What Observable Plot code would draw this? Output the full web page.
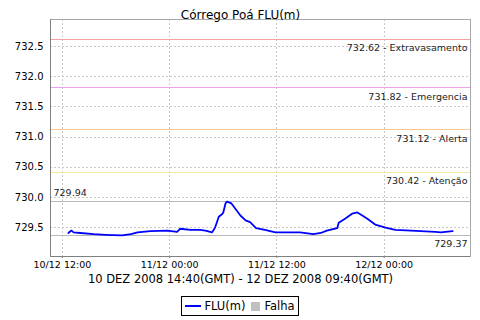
<!DOCTYPE html>
<html>
<head>
<meta charset="utf-8">
<script src="https://cdn.jsdelivr.net/npm/d3@7"></script>
<script src="https://cdn.jsdelivr.net/npm/@observablehq/plot@0.6"></script>
<style>
  body { margin: 0; background: #fff; font-family: "DejaVu Sans", sans-serif; }
  #legend { width: 480px; display: flex; justify-content: center; margin-top: 6px; }
  #legend .box { border: 1px solid #000; height: 18px; display: flex; align-items: center; padding: 0 3px; font-size: 11.5px; color: #000; }
  #legend .ln { width: 16px; height: 2px; background: #0000ff; margin-right: 3px; }
  #legend .sq { width: 9px; height: 9px; background: #c0c0c0; margin: 0 4px 0 6px; }
</style>
</head>
<body>
<div id="chart"></div>
<div id="legend"><div class="box"><span class="ln"></span>FLU(m)<span class="sq"></span>Falha</div></div>
<script>
const times = [
  "2008-12-10T12:40Z","2008-12-10T13:00Z","2008-12-10T13:15Z","2008-12-10T14:00Z","2008-12-10T15:30Z",
  "2008-12-10T16:50Z","2008-12-10T18:40Z","2008-12-10T19:40Z","2008-12-10T20:25Z","2008-12-10T21:50Z",
  "2008-12-10T23:45Z","2008-12-11T00:50Z","2008-12-11T01:10Z","2008-12-11T02:20Z","2008-12-11T03:25Z",
  "2008-12-11T04:00Z","2008-12-11T04:45Z","2008-12-11T05:05Z","2008-12-11T05:30Z","2008-12-11T05:55Z",
  "2008-12-11T06:00Z","2008-12-11T06:15Z","2008-12-11T06:25Z","2008-12-11T06:55Z","2008-12-11T07:25Z",
  "2008-12-11T07:55Z","2008-12-11T08:30Z","2008-12-11T09:00Z","2008-12-11T09:40Z","2008-12-11T10:40Z",
  "2008-12-11T11:50Z","2008-12-11T12:40Z","2008-12-11T14:35Z","2008-12-11T16:05Z","2008-12-11T16:55Z",
  "2008-12-11T17:35Z","2008-12-11T18:45Z","2008-12-11T18:55Z","2008-12-11T19:40Z","2008-12-11T20:25Z",
  "2008-12-11T21:00Z","2008-12-11T21:20Z","2008-12-11T22:05Z","2008-12-11T23:00Z","2008-12-12T00:10Z",
  "2008-12-12T01:15Z","2008-12-12T03:00Z","2008-12-12T05:45Z","2008-12-12T06:20Z","2008-12-12T07:40Z"
];
const values = [
  729.41,729.45,729.42,729.41,729.39,
  729.38,729.37,729.39,729.42,729.44,
  729.45,729.43,729.48,729.46,729.46,
  729.45,729.42,729.50,729.68,729.73,
  729.75,729.90,729.93,729.90,729.80,
  729.70,729.62,729.59,729.49,729.46,
  729.42,729.42,729.42,729.39,729.41,
  729.45,729.49,729.58,729.65,729.73,
  729.75,729.72,729.65,729.55,729.50,
  729.46,729.45,729.43,729.42,729.44
];
const thresholdValues = [732.62, 731.82, 731.12, 730.42];
const thresholdNames = ["Extravasamento", "Emergencia", "Alerta", "Atenção"];
const thresholdColors = ["#f4a0a0", "#f0a0f0", "#ffc890", "#f5eaa0"];
const maxValue = 729.94;
const minValue = 729.37;
const xTicks = ["2008-12-10T12:00Z","2008-12-11T00:00Z","2008-12-11T12:00Z","2008-12-12T00:00Z"];
const yTicks = [729.5, 730.0, 730.5, 731.0, 731.5, 732.0, 732.5];
const xDomainStr = ["2008-12-10T10:40Z", "2008-12-12T09:40Z"];
const yDomain = [729.02, 732.95];
const title = "Córrego Poá FLU(m)";
const subtitle = "10 DEZ 2008 14:40(GMT) - 12 DEZ 2008 09:40(GMT)";

const data = times.map((t, i) => ({date: new Date(t), value: values[i]}));
const xDomain = xDomainStr.map(d => new Date(d));
const xTickDates = xTicks.map(d => new Date(d));
const fmt = d3.utcFormat("%d/%m %H:%M");

const thresholdRules = thresholdValues.map((v, i) =>
  Plot.ruleY([v], {stroke: thresholdColors[i], strokeWidth: 1, shapeRendering: "crispEdges"}));
const thresholdLabels = thresholdValues.map((v, i) =>
  Plot.text([`${v.toFixed(2)} - ${thresholdNames[i]}`], {x: xDomain[1], y: v, textAnchor: "end", dx: -3, dy: 9, fontSize: 9.5, fill: "#222"}));

const chart = Plot.plot({
  width: 480,
  height: 290,
  marginTop: 19,
  marginBottom: 34,
  marginLeft: 50,
  marginRight: 10,
  style: {fontFamily: "DejaVu Sans, sans-serif", fontSize: "10px", color: "#000", background: "#fff"},
  x: {type: "utc", domain: xDomain},
  y: {domain: yDomain},
  marks: [
    Plot.gridX(xTickDates, {stroke: "#c8c8c8", strokeOpacity: 1, strokeDasharray: "2,2", shapeRendering: "crispEdges"}),
    Plot.gridY(yTicks, {stroke: "#c8c8c8", strokeOpacity: 1, strokeDasharray: "2,2", shapeRendering: "crispEdges"}),
    ...thresholdRules,
    Plot.ruleY([maxValue, minValue], {stroke: "#b8b8b8", strokeWidth: 1, shapeRendering: "crispEdges"}),
    ...thresholdLabels,
    Plot.text([maxValue.toFixed(2)], {x: xDomain[0], y: maxValue, textAnchor: "start", dx: 3, dy: -8, fontSize: 9.5, fill: "#222"}),
    Plot.text([minValue.toFixed(2)], {x: xDomain[1], y: minValue, textAnchor: "end", dx: -3, dy: 9, fontSize: 9.5, fill: "#222"}),
    Plot.line(data, {x: "date", y: "value", stroke: "#0000ff", strokeWidth: 1.8}),
    Plot.frame({stroke: "#a8a8a8", shapeRendering: "crispEdges"}),
    Plot.ruleX([xDomain[0]], {stroke: "#808080", shapeRendering: "crispEdges"}),
    Plot.ruleY([yDomain[0]], {stroke: "#808080", shapeRendering: "crispEdges"}),
    Plot.axisY(yTicks, {tickSize: 0, tickPadding: 7, tickFormat: d => d.toFixed(1), label: null, fontSize: 10}),
    Plot.axisX(xTickDates, {tickSize: 2, tickPadding: 3, tickFormat: fmt, label: null, fontSize: 9.5, stroke: "#808080"}),
    Plot.text([title], {frameAnchor: "top", dy: -9, dx: -20, fontSize: 12, fill: "#000"}),
    Plot.text([subtitle], {frameAnchor: "bottom", dy: 26, dx: -20, fontSize: 11.5, fill: "#000"})
  ]
});
document.getElementById("chart").appendChild(chart);
</script>
</body>
</html>
